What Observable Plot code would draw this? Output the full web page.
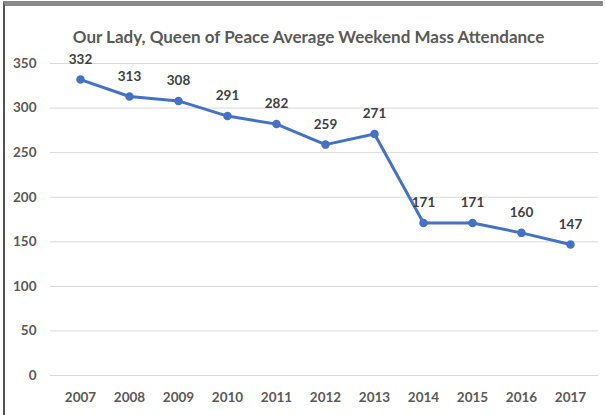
<!DOCTYPE html>
<html>
<head>
<meta charset="utf-8">
<script src="https://cdn.jsdelivr.net/npm/d3@7"></script>
<script src="https://cdn.jsdelivr.net/npm/@observablehq/plot@0.6"></script>
<style>
  html, body { margin: 0; padding: 0; background: #fff; }
  #wrap { position: relative; width: 606px; height: 415px; overflow: hidden; }
  #frame { position: absolute; left: 3px; top: 1px; width: 600px; height: 420px;
           border-top: 5px solid #8a8a8a; border-left: 2px solid #555; box-sizing: border-box; }
  #chart { position: absolute; left: 0; top: 0; }
</style>
</head>
<body>
<div id="wrap"><div id="chart"></div><div id="frame"></div></div>
<script>
const title = "Our Lady, Queen of Peace Average Weekend Mass Attendance";
const years = ["2007","2008","2009","2010","2011","2012","2013","2014","2015","2016","2017"];
const attendance = [332, 313, 308, 291, 282, 259, 271, 171, 171, 160, 147];
const yTicks = [0, 50, 100, 150, 200, 250, 300, 350];

const data = years.map((y, i) => ({year: y, value: attendance[i]}));
const font = "Lato, 'Open Sans', sans-serif";

const chart = Plot.plot({
  width: 606,
  height: 415,
  marginLeft: 50,
  marginRight: 8,
  marginTop: 63,
  marginBottom: 40,
  style: {fontFamily: font, background: "transparent"},
  x: {type: "point", domain: years, range: [77, 573], padding: 0},
  y: {domain: [0, 350]},
  marks: [
    Plot.ruleY(yTicks, {stroke: "#d9d9d9", strokeWidth: 1}),
    Plot.axisY({ticks: yTicks, tickSize: 0, tickPadding: 14, fontSize: 13.5, fontWeight: "bold", fill: "#595959", label: null}),
    Plot.axisX({tickSize: 0, tickPadding: 17, fontSize: 13.5, fontWeight: "bold", fill: "#595959", label: null}),
    Plot.line(data, {x: "year", y: "value", stroke: "#4472C4", strokeWidth: 3}),
    Plot.dot(data, {x: "year", y: "value", r: 3.5, fill: "#4472C4", stroke: "#4472C4"}),
    Plot.text(data, {x: "year", y: "value", text: d => String(d.value), dy: -20, fontSize: 13.5, fontWeight: "bold", fill: "#404040"}),
    Plot.text([title], {frameAnchor: "top", dy: -33, dx: -16, fontSize: 17, fontWeight: "bold", fill: "#595959"})
  ]
});
document.getElementById("chart").appendChild(chart);
</script>
</body>
</html>
